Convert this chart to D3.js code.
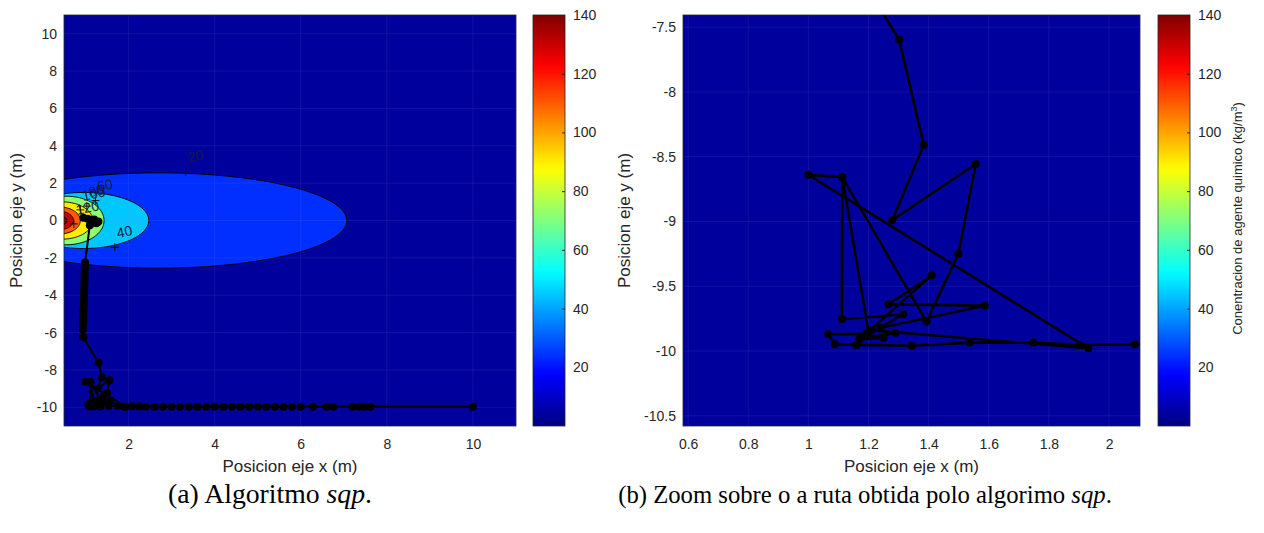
<!DOCTYPE html>
<html>
<head>
<meta charset="utf-8">
<script src="https://cdn.jsdelivr.net/npm/d3@7"></script>
<style>
  body { margin: 0; background: #fff; }
  svg { display: block; }
</style>
</head>
<body>
<svg id="chart" width="1264" height="533" font-family="Liberation Sans, Arial, sans-serif"></svg>
<script>
// ---- concentration field: iso-lines (kg/m^3) and their approximate extents (m)
const levels   = [20, 40, 60, 80, 100, 120, 140];
const levelCx  = [2.70, 0.95, 0.55, 0.45, 0.40, 0.38, 0.40];
const levelRx  = [4.37, 1.52, 0.88, 0.72, 0.48, 0.34, 0.17];
const levelRy  = [2.55, 1.50, 1.30, 1.00, 0.72, 0.50, 0.25];
const bandValue = [4, 24, 45, 72, 90, 110, 130, 145];   // colour value of each filled band
const labelText = ["20", "40", "60", "80", "100", "120"];
const labelX    = [3.40, 1.75, 1.30, 1.10, 0.95, 0.80];
const labelY    = [3.10, -0.95, 1.55, 1.25, 1.05, 0.30];

// ---- route found by sqp (x, y in metres)
const routeX = [10.0, 7.62, 7.48, 7.35, 7.20, 6.75, 6.60, 6.28, 6.00, 5.80, 5.60, 5.40, 5.20, 5.00,
  4.80, 4.60, 4.40, 4.20, 4.00, 3.80, 3.60, 3.40, 3.20, 3.00, 2.80, 2.60, 2.40, 2.25,
  2.086, 1.903, 1.748, 1.537, 1.344, 1.160, 1.088, 1.066, 1.190, 1.250, 1.170, 1.290, 1.210,
  1.931, 1.000, 1.113, 1.111, 1.316, 1.240, 1.587, 1.266, 1.410, 1.200, 1.113, 1.393,
  1.499, 1.557, 1.279, 1.384, 1.302, 0.950,
  0.940, 0.945, 0.950, 0.950, 0.955, 0.955, 0.960, 0.960, 0.965, 0.965, 0.970, 0.970,
  0.975, 0.975, 0.980, 0.980, 0.985, 0.985, 0.990,
  1.100, 1.250, 1.300, 1.200, 1.050, 0.950, 1.150, 1.280];
const routeY = [-9.97, -9.97, -9.97, -9.97, -9.97, -9.97, -9.97, -9.97, -9.97, -9.97, -9.97, -9.97, -9.97, -9.97,
  -9.97, -9.97, -9.97, -9.97, -9.97, -9.97, -9.97, -9.97, -9.97, -9.97, -9.97, -9.97, -9.97, -9.96,
  -9.948, -9.953, -9.935, -9.935, -9.960, -9.953, -9.948, -9.870, -9.870, -9.900, -9.910, -9.860, -9.840,
  -9.979, -8.640, -8.658, -9.755, -9.716, -9.820, -9.650, -9.640, -9.418, -9.850, -8.660, -9.773,
  -9.250, -8.556, -8.990, -8.409, -7.598, -6.250,
  -5.85, -5.60, -5.40, -5.20, -5.00, -4.80, -4.60, -4.40, -4.20, -4.00, -3.80, -3.60,
  -3.40, -3.20, -3.00, -2.80, -2.60, -2.40, -2.25,
  -0.25, -0.15, -0.05, 0.05, 0.10, 0.15, 0.00, -0.10];

// ---- axes
const xTicksA = [2, 4, 6, 8, 10];
const yTicksA = [-10, -8, -6, -4, -2, 0, 2, 4, 6, 8, 10];
const xTicksB = [0.6, 0.8, 1, 1.2, 1.4, 1.6, 1.8, 2];
const yTicksB = [-10.5, -10, -9.5, -9, -8.5, -8, -7.5];
const cbTicks = [20, 40, 60, 80, 100, 120, 140];
const cbDomain = [0, 140];

const svg = d3.select("#chart");
const defs = svg.append("defs");
const SANS = "Liberation Sans, Arial, sans-serif";
const SERIF = "Liberation Serif, 'DejaVu Serif', serif";

// MATLAB-style jet colormap
const clamp = v => Math.max(0, Math.min(1, v));
function jet(t) {
  t = clamp(t);
  return d3.rgb(255 * clamp(1.5 - Math.abs(4 * t - 3)),
                255 * clamp(1.5 - Math.abs(4 * t - 2)),
                255 * clamp(1.5 - Math.abs(4 * t - 1))).formatHex();
}
const cNorm = d3.scaleLinear().domain(cbDomain).range([0, 1]).clamp(true);
const colorOf = v => jet(cNorm(v));

function panel(opts) {
  const { id, x0, x1, y0, y1, xDomain, yDomain, xTicks, yTicks, showContours } = opts;
  const x = d3.scaleLinear().domain(xDomain).range([x0, x1]);
  const y = d3.scaleLinear().domain(yDomain).range([y1, y0]);
  const g = svg.append("g");

  defs.append("clipPath").attr("id", "clip-" + id)
    .append("rect").attr("x", x0).attr("y", y0).attr("width", x1 - x0).attr("height", y1 - y0);
  const plot = g.append("g").attr("clip-path", `url(#clip-${id})`);

  // lowest band fills the whole area
  plot.append("rect").attr("x", x0).attr("y", y0).attr("width", x1 - x0).attr("height", y1 - y0)
    .attr("fill", colorOf(bandValue[0]));

  if (showContours) {
    const ell = d3.line().x(d => x(d[0])).y(d => y(d[1]));
    const angles = d3.range(0, 361, 3).map(a => a * Math.PI / 180);
    levels.forEach((lv, i) => {
      const pts = angles.map(a => [levelCx[i] + levelRx[i] * Math.cos(a), levelRy[i] * Math.sin(a)]);
      plot.append("path").attr("d", ell(pts))
        .attr("fill", colorOf(bandValue[i + 1]))
        .attr("stroke", "#000").attr("stroke-width", 0.9);
    });
    // clabel-style markers and labels
    labelText.forEach((t, i) => {
      const px = x(labelX[i]), py = y(labelY[i]);
      plot.append("text").attr("x", px).attr("y", py)
        .attr("font-size", 14).attr("fill", "#161c3c").attr("font-family", SANS)
        .attr("transform", `rotate(-12,${px},${py})`)
        .text(t);
      plot.append("path")
        .attr("d", `M${px - 7},${py + 9}h8M${px - 3},${py + 5}v8`)
        .attr("stroke", "#111").attr("stroke-width", 1);
    });
  }

  // faint grid
  const grid = plot.append("g").attr("stroke", "#8a8ad0").attr("stroke-opacity", 0.12).attr("stroke-width", 1);
  xTicks.forEach(t => grid.append("line").attr("x1", x(t)).attr("x2", x(t)).attr("y1", y0).attr("y2", y1));
  yTicks.forEach(t => grid.append("line").attr("y1", y(t)).attr("y2", y(t)).attr("x1", x0).attr("x2", x1));

  // route
  const pts = routeX.map((v, i) => [v, routeY[i]]);
  plot.append("path")
    .attr("d", d3.line().x(d => x(d[0])).y(d => y(d[1]))(pts))
    .attr("fill", "none").attr("stroke", "#000").attr("stroke-width", opts.lw)
    .attr("stroke-linejoin", "round");
  plot.selectAll("circle.m").data(pts).join("circle")
    .attr("cx", d => x(d[0])).attr("cy", d => y(d[1])).attr("r", opts.mr).attr("fill", "#000");

  // frame and ticks
  g.append("rect").attr("x", x0).attr("y", y0).attr("width", x1 - x0).attr("height", y1 - y0)
    .attr("fill", "none").attr("stroke", "#262626").attr("stroke-width", 0.8);

  const xa = g.append("g").attr("transform", `translate(0,${y1})`)
    .call(d3.axisBottom(x).tickValues(xTicks).tickSize(0).tickPadding(13).tickFormat(d => String(d)));
  xa.select(".domain").remove();
  xa.selectAll("text").attr("font-size", 14).attr("fill", "#262626").attr("font-family", SANS);

  const ya = g.append("g").attr("transform", `translate(${x0},0)`)
    .call(d3.axisLeft(y).tickValues(yTicks).tickSize(0).tickPadding(7).tickFormat(d => String(d)));
  ya.select(".domain").remove();
  ya.selectAll("text").attr("font-size", 14).attr("fill", "#262626").attr("font-family", SANS);

  g.append("text").attr("x", (x0 + x1) / 2).attr("y", y1 + 46)
    .attr("text-anchor", "middle").attr("font-size", 17).attr("fill", "#262626")
    .text("Posicion eje x (m)");
  g.append("text")
    .attr("transform", `translate(${opts.ylabX},${(y0 + y1) / 2}) rotate(-90)`)
    .attr("text-anchor", "middle").attr("font-size", 17).attr("fill", "#262626")
    .text("Posicion eje y (m)");
}

function colorbar(cx0, cx1, y0, y1, label) {
  const s = d3.scaleLinear().domain(cbDomain).range([y1, y0]);
  const gid = "grad" + cx0;
  const grad = defs.append("linearGradient").attr("id", gid)
    .attr("x1", 0).attr("x2", 0).attr("y1", 1).attr("y2", 0);
  d3.range(0, 1.0001, 0.02).forEach(t =>
    grad.append("stop").attr("offset", t).attr("stop-color", jet(t)));
  const g = svg.append("g");
  g.append("rect").attr("x", cx0).attr("y", y0).attr("width", cx1 - cx0).attr("height", y1 - y0)
    .attr("fill", `url(#${gid})`).attr("stroke", "#262626").attr("stroke-width", 0.8);
  const ax = g.append("g").attr("transform", `translate(${cx1},0)`)
    .call(d3.axisRight(s).tickValues(cbTicks).tickSize(-3).tickPadding(8));
  ax.select(".domain").remove();
  ax.selectAll("line").attr("stroke", "#262626");
  ax.selectAll("text").attr("font-size", 14).attr("fill", "#262626").attr("font-family", SANS);
  if (label) {
    const t = g.append("text")
      .attr("transform", `translate(${cx1 + 52},${(y0 + y1) / 2 - 2}) rotate(-90)`)
      .attr("text-anchor", "middle").attr("font-size", 13).attr("fill", "#262626");
    t.append("tspan").text("Conentracion de agente quimico (kg/m");
    t.append("tspan").attr("baseline-shift", "super").attr("font-size", 9).text("3");
    t.append("tspan").text(")");
  }
}

panel({ id: "a", x0: 64, x1: 516, y0: 15, y1: 426, xDomain: [0.5, 11], yDomain: [-11, 11],
        xTicks: xTicksA, yTicks: yTicksA, showContours: true, lw: 2, mr: 4, ylabX: 22 });
colorbar(533, 565, 15, 426, false);

panel({ id: "b", x0: 683, x1: 1140, y0: 15, y1: 426, xDomain: [0.583, 2.103], yDomain: [-10.579, -7.406],
        xTicks: xTicksB, yTicks: yTicksB, showContours: false, lw: 2.6, mr: 4, ylabX: 630 });
colorbar(1158, 1190, 15, 426, true);

// sub-figure captions
function caption(cx, letter, body, width) {
  const t = svg.append("text").attr("x", cx).attr("y", 503).attr("text-anchor", "middle")
    .attr("font-family", SERIF).attr("font-size", 23).attr("fill", "#000");
  t.append("tspan").text(`(${letter}) ${body}`);
  t.append("tspan").attr("font-style", "italic").text("sqp");
  t.append("tspan").text(".");
  // scale the caption font so the line spans the intended width
  const w = t.node().getComputedTextLength();
  t.attr("font-size", 23 * width / w);
}
caption(270, "a", "Algoritmo ", 204);
caption(865, "b", "Zoom sobre o a ruta obtida polo algorimo ", 494);
</script>
</body>
</html>
